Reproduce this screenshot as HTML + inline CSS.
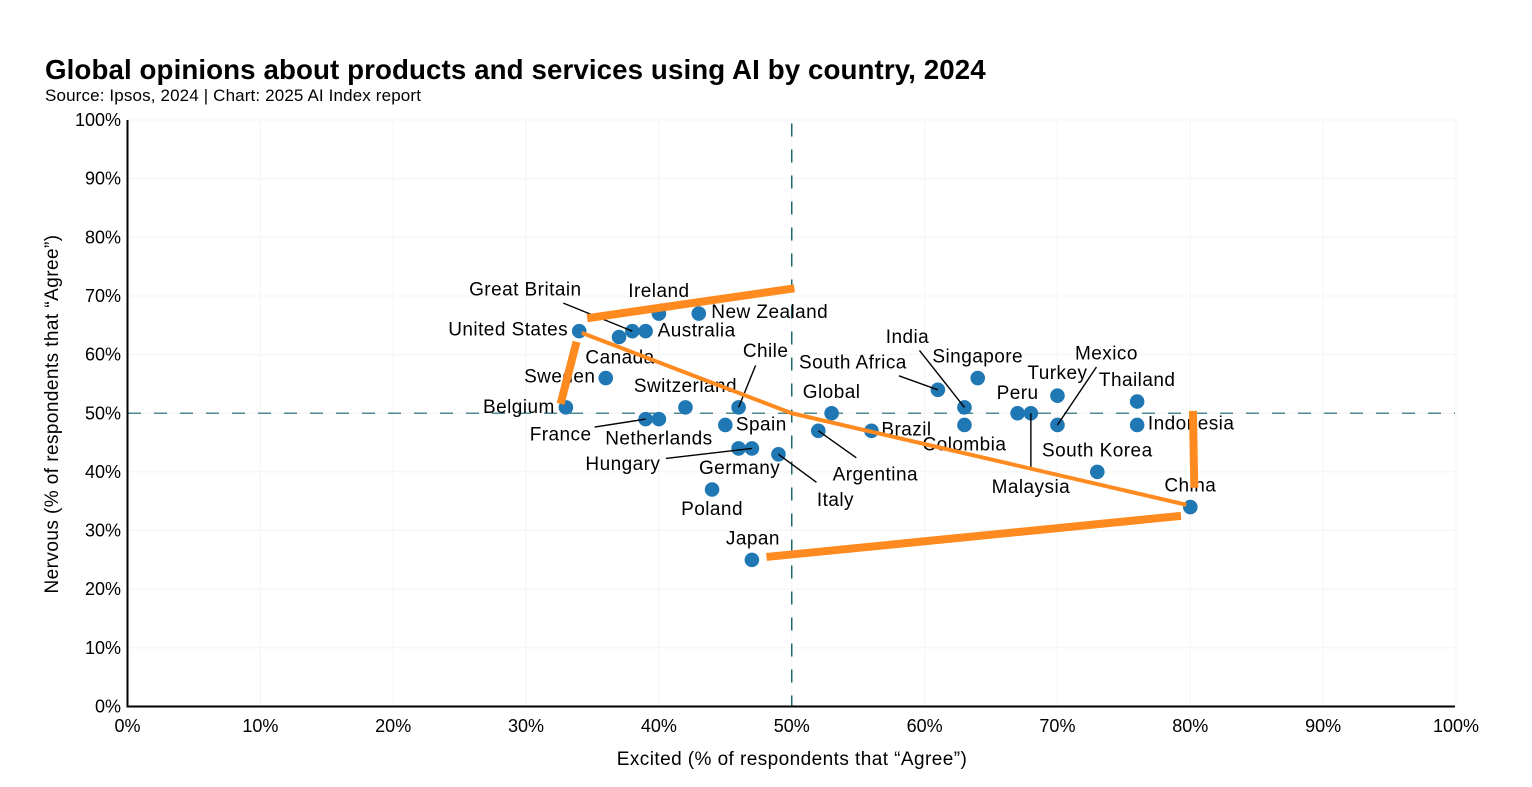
<!DOCTYPE html>
<html lang="en">
<head>
<meta charset="utf-8">
<title>Global opinions about products and services using AI by country, 2024</title>
<style>
  html, body { margin: 0; padding: 0; background: #fff; }
  body { width: 1532px; height: 787px; overflow: hidden; position: relative; font-family: "Liberation Sans", sans-serif; color: #000; }
  #chart-title { position: absolute; left: 45px; top: 54px; margin: 0; font-size: 27.7px; line-height: 32px; font-weight: 700; white-space: nowrap; letter-spacing: 0.1px; }
  #chart-source { position: absolute; left: 45px; top: 86px; margin: 0; font-size: 17px; line-height: 20px; white-space: nowrap; letter-spacing: 0.14px; }
  svg { position: absolute; left: 0; top: 0; }
  svg text { font-family: "Liberation Sans", sans-serif; fill: #000; }
</style>
</head>
<body>
<h1 id="chart-title">Global opinions about products and services using AI by country, 2024</h1>
<p id="chart-source">Source: Ipsos, 2024 | Chart: 2025 AI Index report</p>
<svg id="plot" width="1532" height="787" viewBox="0 0 1532 787" xmlns="http://www.w3.org/2000/svg"></svg>
<script>
const countries = ["Great Britain","Ireland","New Zealand","Australia","Canada","United States","Sweden","Belgium","France","Netherlands","Switzerland","Chile","Spain","Hungary","Germany","Italy","Poland","Japan","Global","Argentina","Brazil","South Africa","India","Colombia","Singapore","Peru","Malaysia","Turkey","Mexico","Thailand","Indonesia","South Korea","China"];
const excited = [38,40,43,39,37,34,36,33,39,40,42,46,45,47,46,49,44,47,53,52,56,61,63,63,64,67,68,70,70,76,76,73,80];
const nervous = [64,67,67,64,63,64,56,51,49,49,51,51,48,44,44,43,37,25,50,47,47,54,51,48,56,50,50,53,48,52,48,40,34];
const xTickValues = [0,10,20,30,40,50,60,70,80,90,100];
const yTickValues = [0,10,20,30,40,50,60,70,80,90,100];
const referenceX = 50;
const referenceY = 50;

/* Hand-drawn orange annotation strokes, in data units */
const strokeTopX = [34.6, 50.2];
const strokeTopY = [66.2, 71.3];
const strokeLeftX = [33.8, 32.6];
const strokeLeftY = [62.2, 51.6];
const strokeMiddleX = [34.2, 50, 79.7];
const strokeMiddleY = [63.7, 50, 34.4];
const strokeRightX = [80.2, 80.3];
const strokeRightY = [50.4, 37.3];
const strokeBottomX = [48.1, 79.3];
const strokeBottomY = [25.5, 32.5];

/* Axis functions */
function xScale(v) { return 127.5 + v * 13.285; }
function yScale(v) { return 706.5 - v * 5.865; }

/* Label placement relative to each point */
const labelOffset = {
  "Great Britain":[-107,-42],"Ireland":[0,-23],"New Zealand":[71,-2],"Australia":[51,-1],"Canada":[1,20],
  "United States":[-71,-2],"Sweden":[-46,-2],"Belgium":[-47,-1],"France":[-85,15],"Netherlands":[0,19],
  "Switzerland":[0,-22],"Chile":[27,-57],"Spain":[36,-1],"Hungary":[-129,15],"Germany":[1,19],
  "Italy":[57,45],"Poland":[0,19],"Japan":[1,-22],"Global":[0,-22],"Argentina":[57,43],"Brazil":[35,-2],
  "South Africa":[-85,-28],"India":[-57,-71],"Colombia":[0,19],"Singapore":[0,-22],"Peru":[0,-21],
  "Malaysia":[0,73],"Turkey":[0,-23],"Mexico":[49,-72],"Thailand":[0,-22],"Indonesia":[54,-2],
  "South Korea":[0,-22],"China":[0,-22]
};
/* Leader start relative to each point */
const leaderOffset = {
  "Great Britain":[-69,-28],"France":[-51,8],"Chile":[17,-42],"Hungary":[-86,10],"Italy":[38,28],
  "Argentina":[38,27],"South Africa":[-39,-14],"India":[-45,-57],"Malaysia":[0,54],"Mexico":[39,-58]
};

const NS = "http://www.w3.org/2000/svg";
const svg = document.getElementById("plot");

function make(tag, attrs, parent) {
  const el = document.createElementNS(NS, tag);
  for (const k in attrs) el.setAttribute(k, attrs[k]);
  (parent || svg).appendChild(el);
  return el;
}
function slug(s) { return s.toLowerCase().replace(/\s+/g, "-"); }

/* Gridlines */
xTickValues.forEach(function (t) {
  if (t === 0) return;
  const g = make("line", { x1: xScale(t), x2: xScale(t), y1: yScale(100), y2: yScale(0), stroke: "#f3f4f4", "stroke-width": 1 });
  
  
});
yTickValues.forEach(function (t) {
  if (t === 0) return;
  const g = make("line", { x1: xScale(0), x2: xScale(100), y1: yScale(t), y2: yScale(t), stroke: "#f3f4f4", "stroke-width": 1 });
  
  
});

/* Reference lines */
const refV = make("line", { x1: xScale(referenceX), x2: xScale(referenceX), y1: 123.5, y2: yScale(0), stroke: "#1f6a70", "stroke-width": 1.5, "stroke-dasharray": "13 13" });


const refH = make("line", { x1: 128, x2: 1455, y1: yScale(referenceY), y2: yScale(referenceY), stroke: "#4f8a90", "stroke-width": 1.5, "stroke-dasharray": "13 13" });



/* Axes */
const axisY = make("line", { x1: 127.5, x2: 127.5, y1: 120, y2: 707.5, stroke: "#000", "stroke-width": 2 });


const axisX = make("line", { x1: 126.5, x2: 1455, y1: 706.5, y2: 706.5, stroke: "#000", "stroke-width": 2 });



/* Tick labels */
xTickValues.forEach(function (t) {
  const el = make("text", { x: xScale(t), y: 732, "text-anchor": "middle", "font-size": 18 });
  el.textContent = t + "%";
  
  
});
yTickValues.forEach(function (t) {
  const el = make("text", { x: 121, y: yScale(t) + 6, "text-anchor": "end", "font-size": 18 });
  el.textContent = t + "%";
  
  
});

/* Axis titles */
const xTitle = make("text", { x: 792, y: 765, "text-anchor": "middle", "font-size": 19, "letter-spacing": 0.43 });
xTitle.textContent = "Excited (% of respondents that \u201CAgree\u201D)";


const yTitle = make("text", { x: 0, y: 0, "text-anchor": "middle", "font-size": 19, "letter-spacing": 0.43, transform: "translate(58 414) rotate(-90)" });
yTitle.textContent = "Nervous (% of respondents that \u201CAgree\u201D)";



/* Points */
countries.forEach(function (c, i) {
  const dot = make("circle", { cx: xScale(excited[i]), cy: yScale(nervous[i]), r: 7.3, fill: "#1f77b4" });
  
  
});

/* Leader lines */
countries.forEach(function (c, i) {
  const off = leaderOffset[c];
  if (!off) return;
  const px = xScale(excited[i]), py = yScale(nervous[i]);
  const ln = make("line", { x1: px + off[0], y1: py + off[1], x2: px, y2: py, stroke: "#000", "stroke-width": 1.4 });
  
  
});

/* Country labels */
countries.forEach(function (c, i) {
  const off = labelOffset[c];
  const lbl = make("text", { x: xScale(excited[i]) + off[0], y: yScale(nervous[i]) + off[1] + 6.5, "text-anchor": "middle", "font-size": 19, "letter-spacing": 0.45 });
  lbl.textContent = c;
  
  
});

/* Orange annotation strokes */
function drawStroke(xs, ys, width, name) {
  const pts = xs.map(function (x, i) { return xScale(x) + "," + yScale(ys[i]); }).join(" ");
  const s = make("polyline", { points: pts, fill: "none", stroke: "#ff8a1f", "stroke-width": width, "stroke-linejoin": "round" });
  
  
}
drawStroke(strokeTopX, strokeTopY, 8, 'orange-stroke-top');
drawStroke(strokeLeftX, strokeLeftY, 8, 'orange-stroke-left');
drawStroke(strokeMiddleX, strokeMiddleY, 4, 'orange-stroke-middle');
drawStroke(strokeRightX, strokeRightY, 8, 'orange-stroke-right');
drawStroke(strokeBottomX, strokeBottomY, 8, 'orange-stroke-bottom');
</script>
</body>
</html>
